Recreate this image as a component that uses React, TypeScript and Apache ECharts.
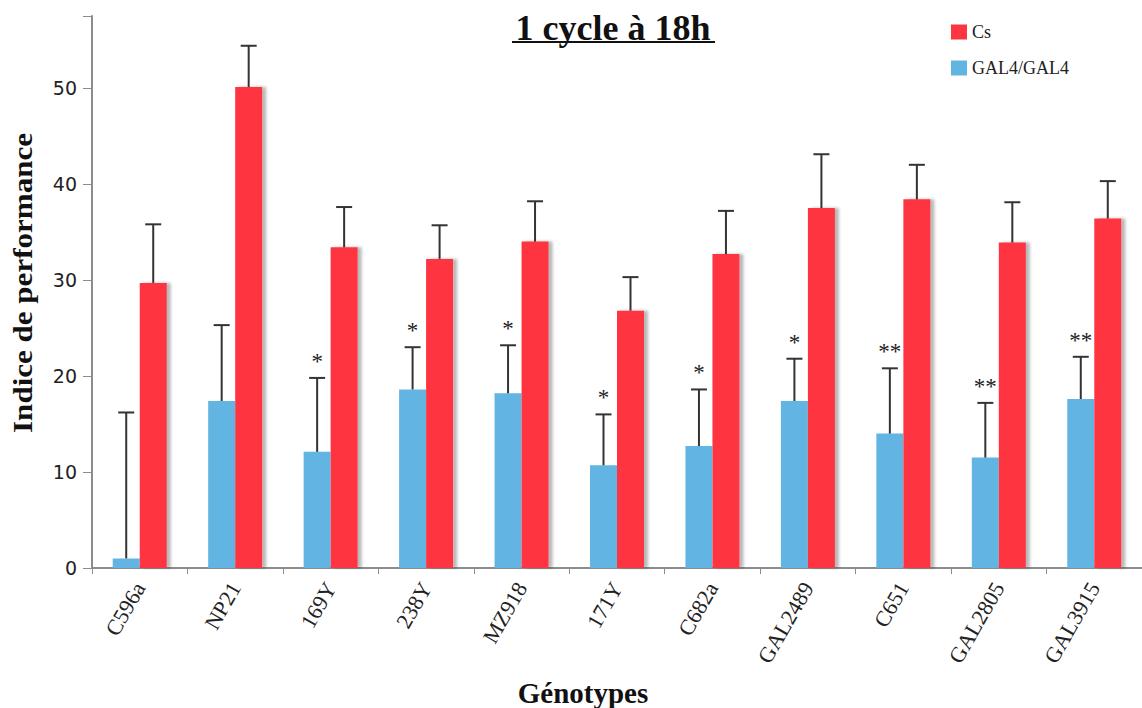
import React, { useEffect, useRef } from "react";
import * as echarts from "echarts";

const categories = ["C596a", "NP21", "169Y", "238Y", "MZ918", "171Y", "C682a", "GAL2489", "C651", "GAL2805", "GAL3915"];
const gal4Values = [1.0, 17.4, 12.1, 18.6, 18.2, 10.7, 12.7, 17.4, 14.0, 11.5, 17.6];
const gal4Sd = [15.2, 7.9, 7.7, 4.4, 5.0, 5.3, 5.9, 4.4, 6.8, 5.7, 4.4];
const csValues = [29.7, 50.1, 33.4, 32.2, 34.0, 26.8, 32.7, 37.5, 38.4, 33.9, 36.4];
const csSd = [6.1, 4.3, 4.2, 3.5, 4.2, 3.5, 4.5, 5.6, 3.6, 4.2, 3.9];
const stars = ["", "", "*", "*", "*", "*", "*", "*", "**", "**", "**"];
const yTicks = [0, 10, 20, 30, 40, 50];

const RED = "#FE3541";
const BLUE = "#62B4E2";
const BAR_W = 27;
const SERIF = '"Liberation Serif", "Times New Roman", serif';

function errSeries(name: string, values: number[], sd: number[], offset: number, marks: string[] | null) {
  return {
    type: "custom",
    name,
    z: 5,
    data: values.map((v, i) => [i, v, v + sd[i]]),
    encode: { x: 0, y: [1, 2] },
    renderItem: (params: any, api: any) => {
      const i = api.value(0);
      const base = api.coord([i, api.value(1)]);
      const hi = api.coord([i, api.value(2)]);
      const x = base[0] + offset;
      const children: any[] = [
        { type: "line", shape: { x1: x, y1: base[1], x2: x, y2: hi[1] }, style: { stroke: "#333", lineWidth: 2 } },
        { type: "line", shape: { x1: x - 8, y1: hi[1], x2: x + 8, y2: hi[1] }, style: { stroke: "#333", lineWidth: 2 } },
      ];
      const m = marks ? marks[params.dataIndex] : "";
      if (m) {
        children.push({
          type: "text",
          style: { text: m, x, y: hi[1] - 5, align: "center", verticalAlign: "bottom", font: `23px ${SERIF}`, fill: "#222" },
        });
      }
      return { type: "group", children };
    },
  };
}

export default function App() {
  const ref = useRef<HTMLDivElement>(null);
  useEffect(() => {
    const chart = echarts.init(ref.current!, null, { renderer: "svg" });
    chart.setOption({
      animation: false,
      backgroundColor: "#fff",
      grid: { left: 92, top: 16, width: 1062, height: 552, containLabel: false },
      legend: {
        data: ["Cs", "GAL4/GAL4"],
        orient: "vertical",
        left: 951,
        top: 23,
        padding: 0,
        itemGap: 18,
        itemWidth: 16,
        itemHeight: 15,
        icon: "rect",
        textStyle: { fontFamily: SERIF, fontSize: 18, color: "#222" },
      },
      xAxis: {
        type: "category",
        data: categories,
        axisLine: { lineStyle: { color: "#8c8c8c", width: 2 } },
        axisTick: { show: true, length: 6, lineStyle: { color: "#8c8c8c" } },
        axisLabel: { rotate: 60, fontFamily: SERIF, fontSize: 22, color: "#222", margin: 16 },
      },
      yAxis: {
        type: "value",
        min: 0,
        max: 57.5,
        interval: 10,
        splitLine: { show: false },
        axisLine: { show: true, lineStyle: { color: "#8c8c8c", width: 2 } },
        axisTick: { show: true, length: 9, lineStyle: { color: "#8c8c8c" } },
        axisLabel: {
          fontFamily: '"DejaVu Sans", sans-serif',
          fontSize: 19,
          color: "#222",
          margin: 15,
          formatter: (v: number) => (yTicks.includes(v) ? String(v) : ""),
        },
      },
      series: [
        {
          type: "bar",
          name: "GAL4/GAL4",
          data: gal4Values,
          barWidth: BAR_W,
          barGap: "0%",
          itemStyle: { color: BLUE },
        },
        {
          type: "bar",
          name: "Cs",
          data: csValues,
          barWidth: BAR_W,
          barGap: "0%",
          itemStyle: { color: RED, shadowColor: "rgba(0,0,0,0.28)", shadowOffsetX: 4, shadowBlur: 3 },
        },
        errSeries("errGal4", gal4Values, gal4Sd, -BAR_W / 2, stars),
        errSeries("errCs", csValues, csSd, BAR_W / 2, null),
      ],
      graphic: [
        {
          type: "text",
          x: 613,
          y: 46,
          style: { text: "1 cycle à 18h", font: `bold 36px ${SERIF}`, fill: "#111", align: "center", verticalAlign: "bottom" },
        },
        { type: "line", shape: { x1: 512, y1: 42, x2: 715, y2: 42 }, style: { stroke: "#111", lineWidth: 2 } },
        {
          type: "text",
          x: 23,
          y: 283,
          rotation: Math.PI / 2,
          scaleX: 1.15,
          style: { text: "Indice de performance", font: `bold 27px ${SERIF}`, fill: "#111", align: "center", verticalAlign: "middle" },
        },
        {
          type: "text",
          x: 583,
          y: 693,
          style: { text: "Génotypes", font: `bold 29px ${SERIF}`, fill: "#111", align: "center", verticalAlign: "middle" },
        },
      ],
    });
    return () => chart.dispose();
  }, []);
  return <div ref={ref} style={{ position: "fixed", left: 0, top: 0, width: 1142, height: 708 }} />;
}
